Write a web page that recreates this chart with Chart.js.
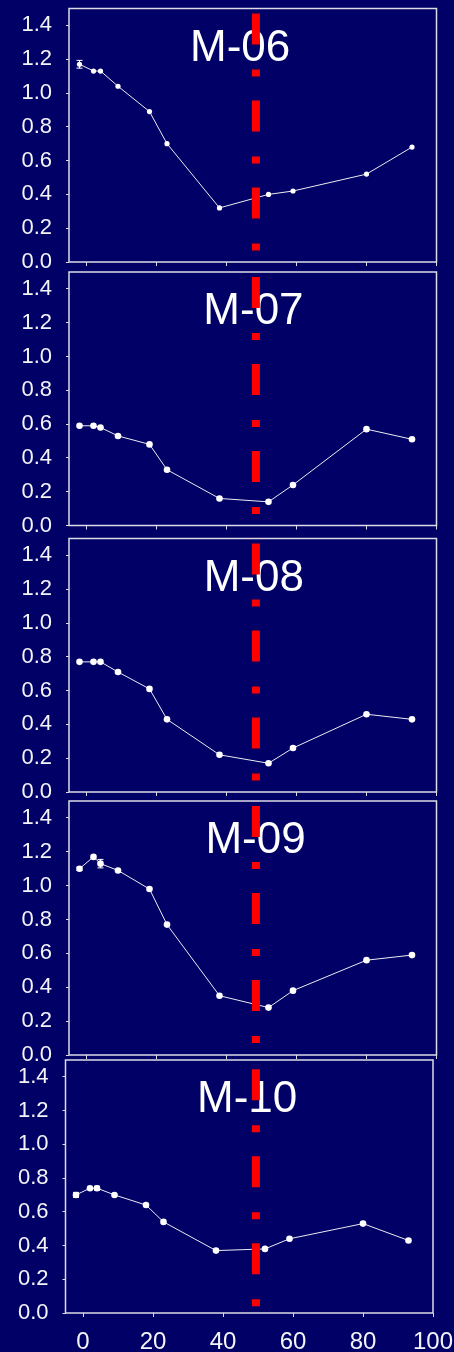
<!DOCTYPE html>
<html>
<head>
<meta charset="utf-8">
<script src="https://cdn.jsdelivr.net/npm/chart.js@4/dist/chart.umd.min.js"></script>
<style>
  html, body { margin: 0; padding: 0; background: #000066; width: 454px; height: 1352px; overflow: hidden; }
  canvas { position: absolute; left: 0; }
</style>
</head>
<body>
<script>
// Sampling positions shared by every profile
const depths = [-2, 2, 4, 9, 18, 23, 38, 52, 59, 80, 93];

// Measured profiles
const m06 = [1.17, 1.13, 1.13, 1.04, 0.89, 0.70, 0.32, 0.40, 0.42, 0.52, 0.68];
const m07 = [0.59, 0.59, 0.58, 0.53, 0.48, 0.33, 0.16, 0.14, 0.24, 0.57, 0.51];
const m08 = [0.77, 0.77, 0.77, 0.71, 0.61, 0.43, 0.22, 0.17, 0.26, 0.46, 0.43];
const m09 = [1.10, 1.17, 1.13, 1.09, 0.98, 0.77, 0.35, 0.28, 0.38, 0.56, 0.59];
const m10 = [0.70, 0.74, 0.74, 0.70, 0.64, 0.54, 0.37, 0.38, 0.44, 0.53, 0.43];

// Error bar half-widths (0 = none drawn)
const m06Err = [0.023, 0, 0, 0, 0, 0, 0, 0, 0, 0, 0];
const m07Err = [0, 0, 0, 0, 0, 0, 0, 0, 0, 0, 0];
const m08Err = [0, 0, 0, 0, 0, 0, 0, 0, 0, 0, 0];
const m09Err = [0.01, 0, 0.025, 0, 0, 0, 0, 0, 0, 0, 0];
const m10Err = [0.015, 0, 0.012, 0, 0, 0, 0, 0, 0, 0, 0];

// Panel titles
const panelNames = ['M-06', 'M-07', 'M-08', 'M-09', 'M-10'];

// Axis ticks
const yTickValues = [0, 0.2, 0.4, 0.6, 0.8, 1.0, 1.2, 1.4];
const xTickValues = [0, 20, 40, 60, 80, 100];

const FONT = '"Liberation Sans", Arial, Helvetica, sans-serif';
const AXIS_COLOR = '#dcdce6';
const TEXT_COLOR = '#f4f4f8';

// Layout of each stacked panel (pixels on the page)
const panels = [
  { name: panelNames[0], values: m06, errors: m06Err, canvasTop: 0,    box: { top: 8.5,   bottom: 262,   left: 69,   right: 436.5 }, titleX: 43.9, radius: 2.6, markerX: 48.4, markerTop: 1.47,  markerBottom: 0.06, labels: false },
  { name: panelNames[1], values: m07, errors: m07Err, canvasTop: 266,  box: { top: 272,   bottom: 525.5, left: 69,   right: 436.5 }, titleX: 47.7, radius: 3.3, markerX: 48.4, markerTop: 1.47,  markerBottom: 0.06, labels: false },
  { name: panelNames[2], values: m08, errors: m08Err, canvasTop: 532,  box: { top: 538.5, bottom: 792,   left: 69,   right: 436.5 }, titleX: 47.8, radius: 3.3, markerX: 48.4, markerTop: 1.47,  markerBottom: 0.06, labels: false },
  { name: panelNames[3], values: m09, errors: m09Err, canvasTop: 795,  box: { top: 801,   bottom: 1055,  left: 69,   right: 436.5 }, titleX: 48.3, radius: 3.3, markerX: 48.4, markerTop: 1.47,  markerBottom: 0.06, labels: false },
  { name: panelNames[4], values: m10, errors: m10Err, canvasTop: 1054, box: { top: 1060,  bottom: 1313,  left: 65.5, right: 433 },   titleX: 46.9, radius: 3.3, markerX: 49.4, markerTop: 1.445, markerBottom: 0.02, labels: true }
];

// Frame around the plot area plus the panel title drawn inside it
const framePlugin = {
  id: 'frameAndTitle',
  beforeDatasetsDraw(chart, args, opts) {
    const { ctx, chartArea: a, scales } = chart;
    ctx.save();
    ctx.strokeStyle = AXIS_COLOR;
    ctx.lineWidth = 1.5;
    ctx.strokeRect(a.left, a.top, a.right - a.left, a.bottom - a.top);
    ctx.fillStyle = '#ffffff';
    ctx.font = '44px ' + FONT;
    ctx.textAlign = 'center';
    ctx.textBaseline = 'alphabetic';
    ctx.fillText(opts.text, scales.x.getPixelForValue(opts.x), a.top + 52);
    ctx.restore();
  }
};

// Vertical error bars with small caps
const errorBarPlugin = {
  id: 'errorBars',
  afterDatasetsDraw(chart, args, opts) {
    const { ctx, scales } = chart;
    const vals = opts.values, errs = opts.errors;
    ctx.save();
    ctx.strokeStyle = '#ffffff';
    ctx.lineWidth = 1;
    errs.forEach((e, i) => {
      if (!e) return;
      const x = scales.x.getPixelForValue(depths[i]);
      const yHi = scales.y.getPixelForValue(vals[i] + e);
      const yLo = scales.y.getPixelForValue(vals[i] - e);
      ctx.beginPath();
      ctx.moveTo(x, yHi); ctx.lineTo(x, yLo);
      ctx.moveTo(x - 3, yHi); ctx.lineTo(x + 3, yHi);
      ctx.moveTo(x - 3, yLo); ctx.lineTo(x + 3, yLo);
      ctx.stroke();
    });
    ctx.restore();
  }
};

// Scales keep exactly the size given; no extra room for overhanging labels
const noOverhang = s => { s.paddingTop = 0; s.paddingBottom = 0; s.paddingLeft = 0; s.paddingRight = 0; };

panels.forEach(p => {
  const canvasBottom = p.labels ? 1352 : Math.round(p.box.bottom) + 10;
  const height = canvasBottom - p.canvasTop;
  const padTop = p.box.top - p.canvasTop;
  const xAxisH = canvasBottom - p.box.bottom;

  const canvas = document.createElement('canvas');
  canvas.width = 454;
  canvas.height = height;
  canvas.style.top = p.canvasTop + 'px';
  canvas.style.width = '454px';
  canvas.style.height = height + 'px';
  document.body.appendChild(canvas);

  new Chart(canvas, {
    type: 'line',
    data: {
      datasets: [
        {
          data: depths.map((d, i) => ({ x: d, y: p.values[i] })),
          borderColor: '#ececf2',
          borderWidth: 1,
          backgroundColor: '#ffffff',
          pointBackgroundColor: '#ffffff',
          pointBorderColor: '#ffffff',
          pointBorderWidth: 0,
          pointRadius: p.radius,
          tension: 0,
          order: 1
        },
        {
          data: [{ x: p.markerX, y: p.markerTop }, { x: p.markerX, y: p.markerBottom }],
          borderColor: '#ff0000',
          borderWidth: 8,
          borderDash: [31, 25, 7, 24],
          borderCapStyle: 'butt',
          pointRadius: 0,
          order: 0
        }
      ]
    },
    options: {
      responsive: false,
      animation: false,
      devicePixelRatio: 1,
      events: [],
      layout: { padding: { top: padTop, right: 454 - p.box.right, left: 0, bottom: 0 } },
      plugins: {
        legend: { display: false },
        tooltip: { enabled: false },
        frameAndTitle: { text: p.name, x: p.titleX },
        errorBars: { values: p.values, errors: p.errors }
      },
      scales: {
        x: {
          type: 'linear',
          min: -5,
          max: 100,
          afterFit: s => { s.height = xAxisH; noOverhang(s); },
          afterBuildTicks: s => { s.ticks = xTickValues.map(v => ({ value: v })); },
          border: { display: false },
          grid: { drawOnChartArea: false, drawTicks: true, tickLength: 4, color: AXIS_COLOR, lineWidth: 1 },
          ticks: {
            display: p.labels,
            color: TEXT_COLOR,
            font: { family: FONT, size: 24 },
            padding: 11,
            maxRotation: 0,
            autoSkip: false
          }
        },
        y: {
          min: 0,
          max: 1.5,
          afterFit: s => { s.width = p.box.left; noOverhang(s); },
          afterBuildTicks: s => { s.ticks = yTickValues.map(v => ({ value: v })); },
          border: { display: false },
          grid: { drawOnChartArea: false, drawTicks: true, tickLength: 3, color: AXIS_COLOR, lineWidth: 1 },
          ticks: {
            color: TEXT_COLOR,
            font: { family: FONT, size: 22 },
            padding: 14,
            callback: v => Number(v).toFixed(1)
          }
        }
      }
    },
    plugins: [framePlugin, errorBarPlugin]
  });
});
</script>
</body>
</html>
